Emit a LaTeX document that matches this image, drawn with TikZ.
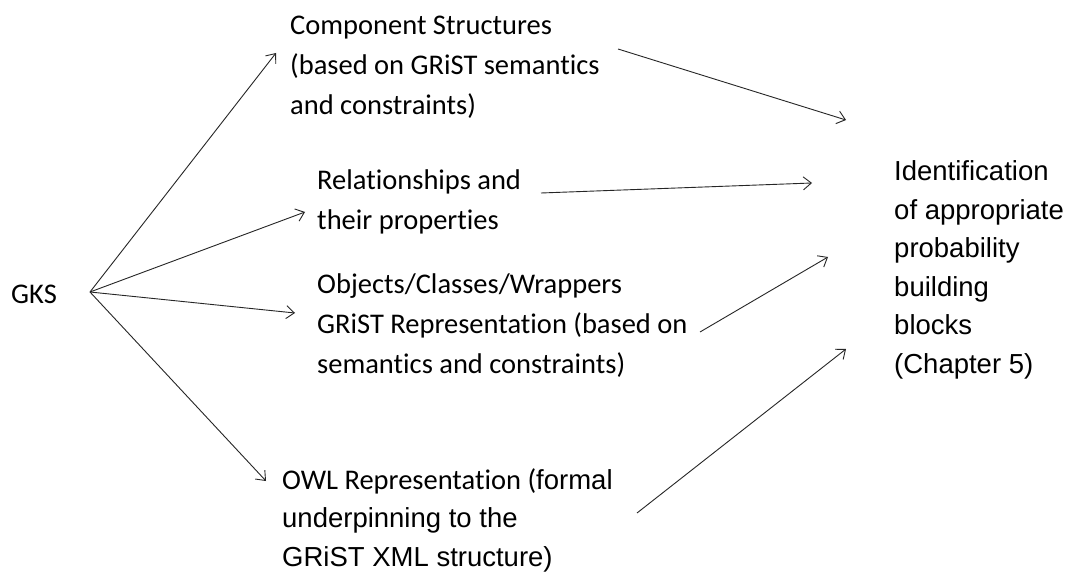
\documentclass[tikz,border=0pt]{standalone}
\usepackage{fontspec}
\newfontfamily\calfont{Carlito}[Ligatures=NoCommon]
\newfontfamily\arialfont{Liberation Sans}
\usetikzlibrary{arrows.meta}

% multi-line nodes sit on the baseline of their last line
\tikzset{
  txtc/.style={inner sep=0pt, anchor=base west, align=left,
    font=\calfont\fontsize{28.5}{40}\selectfont},
  txta/.style={inner sep=0pt, anchor=base west, align=left,
    font=\arialfont\fontsize{27.5}{38.5}\selectfont},
  link/.style={draw=black!85, line width=0.9pt,
    -{Straight Barb[length=8pt,width=13pt,line width=0.9pt]}}
}

\begin{document}
\begin{tikzpicture}[x=1pt,y=-1pt]
  \fill[white] (0,0) rectangle (1078,575);
  \useasboundingbox (0,0) rectangle (1078,575);

  % source and target texts
  \node[txtc] (gks) at (11,303) {GKS};
  \node[txtc] (comp) at (290,115) {Component Structures\\(based on GRiST semantics\\and constraints)};
  \node[txtc] (rel) at (317,229) {Relationships and\\their properties};
  \node[txtc] (obj) at (317,373) {Objects/Classes/Wrappers\\GRiST Representation (based on\\semantics and constraints)};
  \node[txta] (owl) at (282,566) {{\calfont\fontsize{28.5}{38.5}\selectfont OWL Representation (}formal\\underpinning to the\\GRiST XML structure)};
  \node[txta] (ident) at (894,373) {Identification\\of appropriate\\probability\\building\\blocks\\(Chapter 5)};

  % connector end points
  \coordinate (hub) at (90,292);
  \coordinate (comp-in) at (276,53);
  \coordinate (rel-in) at (305,212);
  \coordinate (obj-in) at (295,313);
  \coordinate (owl-in) at (266,481);
  \coordinate (comp-out) at (618,49);
  \coordinate (rel-out) at (541,193);
  \coordinate (obj-out) at (700,332);
  \coordinate (owl-out) at (637,513);
  \coordinate (ident-in1) at (846,120);
  \coordinate (ident-in2) at (812,183);
  \coordinate (ident-in3) at (828,257);
  \coordinate (ident-in4) at (846,349);

  % GKS fans out to the four descriptions
  \draw[link] (hub) -- (comp-in);
  \draw[link] (hub) -- (rel-in);
  \draw[link] (hub) -- (obj-in);
  \draw[link] (hub) -- (owl-in);

  % each description feeds the identification step
  \draw[link] (comp-out) -- (ident-in1);
  \draw[link] (rel-out) -- (ident-in2);
  \draw[link] (obj-out) -- (ident-in3);
  \draw[link] (owl-out) -- (ident-in4);
\end{tikzpicture}
\end{document}
